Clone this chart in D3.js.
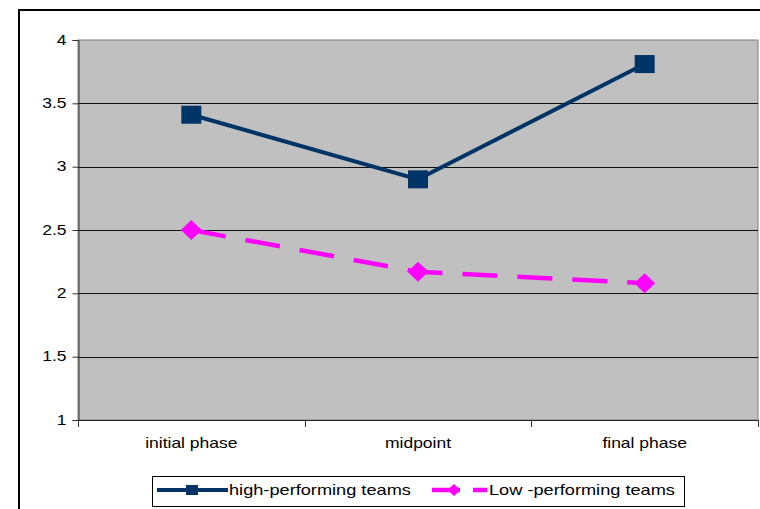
<!DOCTYPE html>
<html>
<head>
<meta charset="utf-8">
<script src="https://cdn.jsdelivr.net/npm/d3@7"></script>
<style>
  html, body { margin: 0; padding: 0; background: #fff; }
  svg { display: block; font-family: "Liberation Sans", Arial, sans-serif; }
</style>
</head>
<body>
<svg id="chart" width="760" height="509"></svg>
<script>
// Mean scores per phase for two groups of teams
const phases = ["initial phase", "midpoint", "final phase"];
const highPerforming = [3.41, 2.90, 3.81];
const lowPerforming = [2.50, 2.17, 2.08];
const yTicks = [1, 1.5, 2, 2.5, 3, 3.5, 4];
const seriesNames = ["high-performing teams", "Low -performing teams"];

const navy = "#003366";
const magenta = "#ff00ff";
const textScale = 1.25;   // axis labels are drawn slightly wide
const legendScale = 1.3;  // legend labels a touch wider still

const svg = d3.select("#chart");

// outer frame of the chart object
svg.append("rect")
  .attr("x", 19).attr("y", 10)
  .attr("width", 780).attr("height", 540)
  .attr("fill", "#fff").attr("stroke", "#000").attr("stroke-width", 2);

const plot = { left: 78, right: 758, top: 40, bottom: 420 };

const x = d3.scaleBand().domain(phases).range([plot.left, plot.right]).padding(0);
const y = d3.scaleLinear().domain([1, 4]).range([plot.bottom, plot.top]);
const cx = d => x(d) + x.bandwidth() / 2;

// plot area
svg.append("rect")
  .attr("x", plot.left).attr("y", plot.top)
  .attr("width", plot.right - plot.left).attr("height", plot.bottom - plot.top)
  .attr("fill", "#c0c0c0").attr("stroke", "#808080").attr("stroke-width", 1);

// horizontal gridlines
svg.append("g")
  .selectAll("line")
  .data(yTicks.filter(v => v > 1 && v < 4))
  .join("line")
  .attr("x1", plot.left).attr("x2", plot.right)
  .attr("y1", d => Math.round(y(d)) + 0.5).attr("y2", d => Math.round(y(d)) + 0.5)
  .attr("stroke", "#111").attr("stroke-width", 1);

// y axis
const yAxis = svg.append("g")
  .attr("transform", `translate(${plot.left + 0.5},0)`)
  .call(d3.axisLeft(y).tickValues(yTicks).tickSize(6).tickPadding(0).tickFormat(d3.format("")));
yAxis.select(".domain").attr("stroke", "#333");
yAxis.selectAll(".tick line").attr("stroke", "#333");
yAxis.selectAll(".tick text")
  .attr("font-family", "Liberation Sans, Arial, sans-serif")
  .attr("font-size", 14)
  .attr("fill", "#000")
  .attr("x", -12 / textScale)
  .attr("dy", "0.3em")
  .attr("transform", `scale(${textScale},1)`);

// x axis line and category boundary ticks
const xAxisG = svg.append("g");
xAxisG.append("line")
  .attr("x1", plot.left).attr("x2", plot.right)
  .attr("y1", plot.bottom + 0.5).attr("y2", plot.bottom + 0.5)
  .attr("stroke", "#222");
const bounds = phases.map(p => x(p)).concat([x.range()[1]]);
xAxisG.selectAll("line.tk")
  .data(bounds)
  .join("line")
  .attr("class", "tk")
  .attr("x1", d => Math.round(d) + 0.5).attr("x2", d => Math.round(d) + 0.5)
  .attr("y1", plot.bottom).attr("y2", plot.bottom + 7)
  .attr("stroke", "#333");
xAxisG.selectAll("text")
  .data(phases)
  .join("text")
  .attr("transform", d => `translate(${cx(d)},${plot.bottom + 28}) scale(${textScale},1)`)
  .attr("text-anchor", "middle")
  .attr("font-size", 14)
  .attr("fill", "#000")
  .text(d => d);

// series lines
const line = d3.line().x((d, i) => cx(phases[i])).y(d => y(d));

svg.append("path")
  .datum(lowPerforming)
  .attr("d", line)
  .attr("fill", "none")
  .attr("stroke", magenta)
  .attr("stroke-width", 4.5)
  .attr("stroke-dasharray", "35,20");

svg.append("path")
  .datum(highPerforming)
  .attr("d", line)
  .attr("fill", "none")
  .attr("stroke", navy)
  .attr("stroke-width", 4)
  .attr("stroke-linejoin", "round");

// markers
svg.append("g")
  .selectAll("rect")
  .data(highPerforming)
  .join("rect")
  .attr("x", (d, i) => cx(phases[i]) - 10)
  .attr("y", d => y(d) - 9)
  .attr("width", 20).attr("height", 18)
  .attr("fill", navy);

const diamond = (px, py, hw, hh) =>
  `M${px},${py - hh}L${px + hw},${py}L${px},${py + hh}L${px - hw},${py}Z`;

svg.append("g")
  .selectAll("path")
  .data(lowPerforming)
  .join("path")
  .attr("d", (d, i) => diamond(cx(phases[i]), y(d), 10.5, 10))
  .attr("fill", magenta);

// legend
const lg = svg.append("g");
lg.append("rect")
  .attr("x", 152.5).attr("y", 476.5)
  .attr("width", 532).attr("height", 30)
  .attr("fill", "#fff").attr("stroke", "#000").attr("stroke-width", 1);

const ly = 490;
lg.append("line")
  .attr("x1", 157).attr("x2", 228).attr("y1", ly).attr("y2", ly)
  .attr("stroke", navy).attr("stroke-width", 4);
lg.append("rect")
  .attr("x", 186).attr("y", ly - 5).attr("width", 12).attr("height", 10)
  .attr("fill", navy);
lg.append("text")
  .attr("transform", `translate(229,${ly + 5}) scale(${legendScale},1)`)
  .attr("font-size", 14).attr("fill", "#000")
  .text(seriesNames[0]);

lg.append("line")
  .attr("x1", 432).attr("x2", 487).attr("y1", ly).attr("y2", ly)
  .attr("stroke", magenta).attr("stroke-width", 4.5)
  .attr("stroke-dasharray", "28,13");
lg.append("path")
  .attr("d", diamond(454, ly, 6.5, 6))
  .attr("fill", magenta);
lg.append("text")
  .attr("transform", `translate(489,${ly + 5}) scale(${legendScale},1)`)
  .attr("font-size", 14).attr("fill", "#000")
  .text(seriesNames[1]);
</script>
</body>
</html>
